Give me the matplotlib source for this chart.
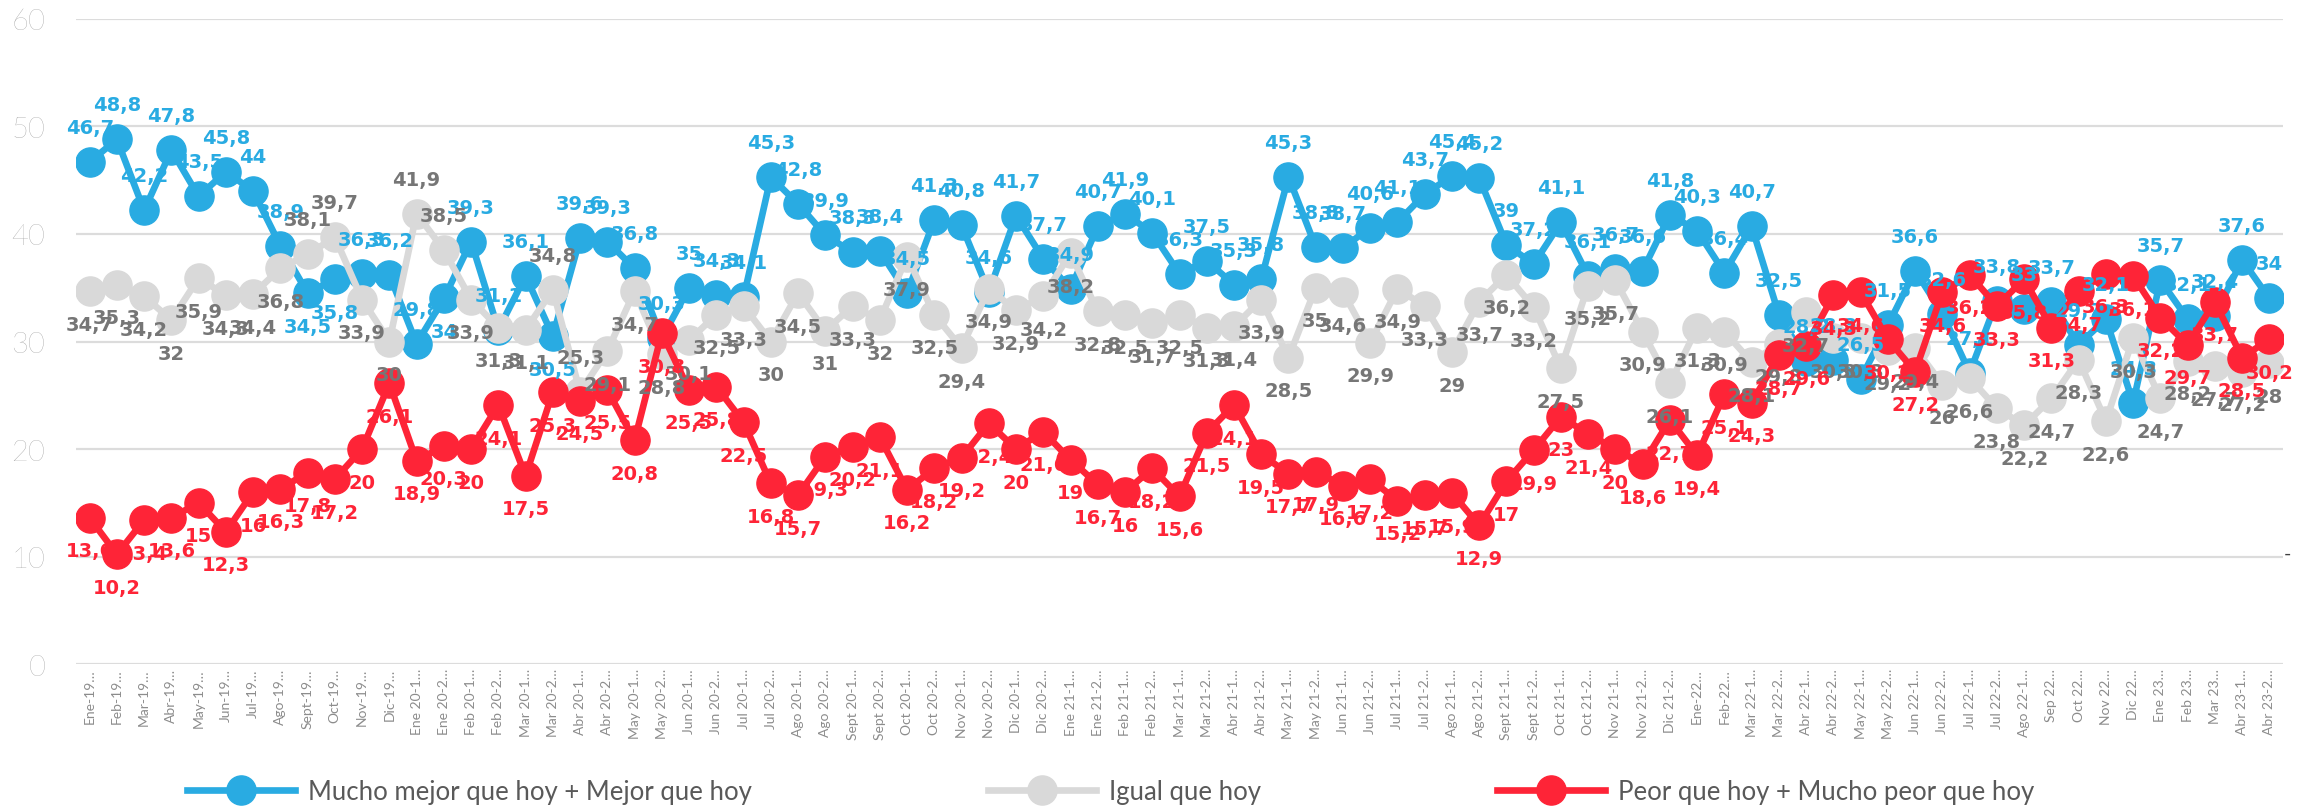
import matplotlib
matplotlib.use("Agg")
import matplotlib.pyplot as plt
from matplotlib.lines import Line2D

# periods (x axis)
periodos = ["Ene-19", "Feb-19", "Mar-19", "Abr-19", "May-19", "Jun-19", "Jul-19", "Ago-19",
            "Sept-19", "Oct-19", "Nov-19", "Dic-19",
            "Ene 20-1", "Ene 20-2", "Feb 20-1", "Feb 20-2", "Mar 20-1", "Mar 20-2",
            "Abr 20-1", "Abr 20-2", "May 20-1", "May 20-2", "Jun 20-1", "Jun 20-2",
            "Jul 20-1", "Jul 20-2", "Ago 20-1", "Ago 20-2", "Sept 20-1", "Sept 20-2",
            "Oct 20-1", "Oct 20-2", "Nov 20-1", "Nov 20-2", "Dic 20-1", "Dic 20-2",
            "Ene 21-1", "Ene 21-2", "Feb 21-1", "Feb 21-2", "Mar 21-1", "Mar 21-2",
            "Abr 21-1", "Abr 21-2", "May 21-1", "May 21-2", "Jun 21-1", "Jun 21-2",
            "Jul 21-1", "Jul 21-2", "Ago 21-1", "Ago 21-2", "Sept 21-1", "Sept 21-2",
            "Oct 21-1", "Oct 21-2", "Nov 21-1", "Nov 21-2", "Dic 21-2",
            "Ene-22", "Feb-22", "Mar 22-1", "Mar 22-2", "Abr 22-1", "Abr 22-2",
            "May 22-1", "May 22-2", "Jun 22-1", "Jun 22-2", "Jul 22-1", "Jul 22-2",
            "Ago 22-1", "Sep 22", "Oct 22", "Nov 22", "Dic 22",
            "Ene 23", "Feb 23", "Mar 23", "Abr 23-1", "Abr 23-2"]

mejor = [46.7, 48.8, 42.2, 47.8, 43.5, 45.8, 44, 38.9, 34.5, 35.8, 36.3, 36.2,
         29.8, 34, 39.3, 31.1, 36.1, 30.5, 39.6, 39.3, 36.8, 30.3, 35, 34.3, 34.1,
         45.3, 42.8, 39.9, 38.3, 38.4, 34.5, 41.3, 40.8, 34.6, 41.7, 37.7,
         34.9, 40.7, 41.9, 40.1, 36.3, 37.5, 35.3, 35.8, 45.3, 38.8, 38.7, 40.6,
         41.1, 43.7, 45.4, 45.2, 39, 37.2, 41.1, 36.1, 36.7, 36.6, 41.8,
         40.3, 36.4, 40.7, 32.5, 28.2, 28.3, 26.5, 31.5, 36.6, 32.6, 27.1, 33.8,
         33, 33.7, 29.7, 32.1, 24.3, 35.7, 32.1, 32.4, 37.6, 34]

igual = [34.7, 35.3, 34.2, 32, 35.9, 34.3, 34.4, 36.8, 38.1, 39.7, 33.9, 30,
         41.9, 38.5, 33.9, 31.3, 31.1, 34.8, 25.3, 29.1, 34.7, 28.8, 30.1, 32.5,
         33.3, 30, 34.5, 31, 33.3, 32, 37.9, 32.5, 29.4, 34.9, 32.9, 34.2,
         38.2, 32.8, 32.5, 31.7, 32.5, 31.3, 31.4, 33.9, 28.5, 35, 34.6, 29.9,
         34.9, 33.3, 29, 33.7, 36.2, 33.2, 27.5, 35.2, 35.7, 30.9, 26.1,
         31.3, 30.9, 28.1, 29.8, 32.7, 30.3, 30.3, 29.2, 29.4, 26, 26.6, 23.8,
         22.2, 24.7, 28.3, 22.6, 30.3, 24.7, 28.2, 27.7, 27.2, 28]

peor = [13.6, 10.2, 13.4, 13.6, 15, 12.3, 16, 16.3, 17.8, 17.2, 20, 26.1,
        18.9, 20.3, 20, 24.1, 17.5, 25.3, 24.5, 25.5, 20.8, 30.8, 25.5, 25.8,
        22.5, 16.8, 15.7, 19.3, 20.2, 21.1, 16.2, 18.2, 19.2, 22.4, 20, 21.6,
        19, 16.7, 16, 18.2, 15.6, 21.5, 24.1, 19.5, 17.7, 17.9, 16.6, 17.2,
        15.2, 15.7, 15.9, 12.9, 17, 19.9, 23, 21.4, 20, 18.6, 22.7,
        19.4, 25.1, 24.3, 28.7, 29.6, 34.3, 34.6, 30.2, 27.2, 34.6, 36.2, 33.3,
        35.8, 31.3, 34.7, 36.3, 36.1, 32.2, 29.7, 33.7, 28.5, 30.2]

nombres = ["Mucho mejor que hoy + Mejor que hoy", "Igual que hoy",
           "Peor que hoy + Mucho peor que hoy"]

AZUL = "#29abe2"
GRIS = "#d9d9d9"
GRIS_TXT = "#767676"
ROJO = "#fe2437"

# points whose label goes on the other side
azul_abajo = [8, 9, 13, 17]
gris_arriba = [8, 9, 12, 13, 17, 18]

plt.rcParams["font.family"] = ["Lato", "DejaVu Sans"]

fig = plt.figure(figsize=(22.97, 8.12), dpi=100)
ax = fig.add_axes([0.0331, 0.1810, 0.9608, 0.7944])

x = list(range(len(periodos)))

series = [(mejor, AZUL, AZUL, "up", azul_abajo),
          (igual, GRIS, GRIS_TXT, "down", gris_arriba),
          (peor, ROJO, ROJO, "down", [])]

for k, (vals, col, tcol, lado, excep) in enumerate(series):
    ax.plot(x, vals, color=col, lw=4.8, marker="o", ms=21, mec=col, mfc=col,
            zorder=3 + k, solid_joinstyle="round")

for k, (vals, col, tcol, lado, excep) in enumerate(series):
    for i, v in enumerate(vals):
        arriba = (lado == "up") != (i in excep)
        off = 18 if arriba else -17
        ax.annotate(f"{v:g}".replace(".", ","), (i, v), xytext=(0, off),
                    textcoords="offset points", ha="center",
                    va="bottom" if arriba else "top",
                    fontsize=14, fontweight="bold", color=tcol, zorder=10,
                    family=["DejaVu Sans"])

ax.set_xlim(-0.5, len(periodos) - 0.5)
ax.set_ylim(0, 60)
ax.set_yticks(range(0, 61, 10))
ax.set_xticks(x)
ax.set_xticklabels([p + "…" for p in periodos], rotation=90, fontsize=10,
                   color="#8c8c8c")
ax.tick_params(axis="y", length=0, pad=22, labelsize=21, labelcolor="#8c8c8c")
ax.tick_params(axis="x", length=0, pad=3)
for t in ax.get_yticklabels():
    t.set_fontweight("light")
ax.grid(axis="y", color="#dcdcdc", lw=1.6)
ax.set_axisbelow(True)
for s in ax.spines.values():
    s.set_visible(False)

handles = [Line2D([0], [0], color=c, lw=4.8, marker="o", ms=21)
           for c in (AZUL, GRIS, ROJO)]
fig.legend(handles, nombres, loc="center", bbox_to_anchor=(0.4835, 0.024), ncol=3,
           frameon=False, fontsize=18.5, handlelength=4.2, columnspacing=9.2,
           handletextpad=0.5, labelcolor="#595959")

fig.text(0.996, 0.318, "-", fontsize=14, color="#404040", ha="center", va="center")

fig.savefig("out.png", dpi=100)
